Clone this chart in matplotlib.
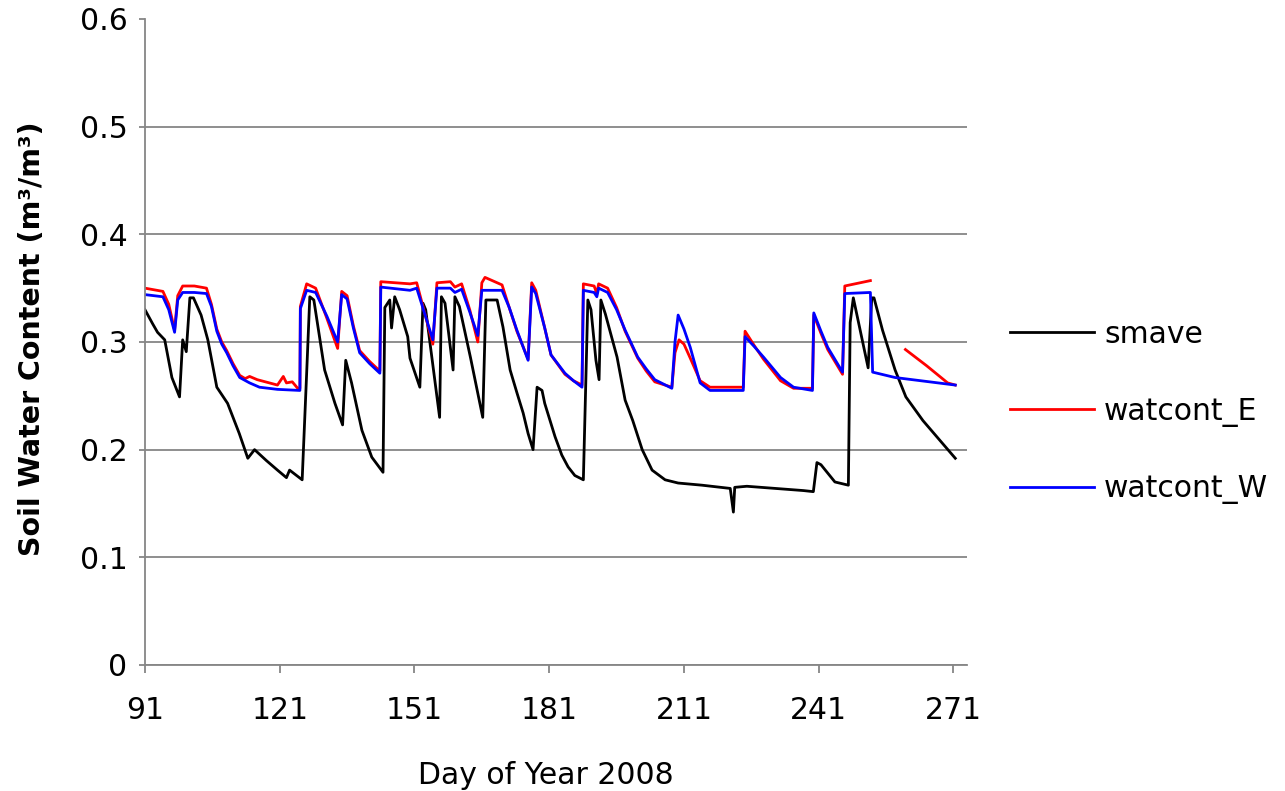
import numpy as np
import matplotlib.pyplot as plt

# smave (black)
days_smave = [91.0, 92.7, 93.8, 95.4, 97.0, 98.7, 99.4, 100.2, 101.0, 101.8, 103.5, 105.0, 107.0,
              109.4, 112.0, 113.9, 115.4, 118.0, 120.5, 122.5, 123.2, 126.0, 127.0, 127.7, 128.6,
              131.0, 133.3, 135.0, 135.7, 137.0, 139.3, 141.5, 144.0, 144.4, 145.5, 145.9,
              146.6, 147.7, 149.5, 150.0, 152.2, 152.9, 153.5, 156.6, 157.0, 157.8, 159.6,
              160.0, 161.0, 163.5, 166.2, 166.9, 169.4, 170.7, 172.3, 173.8, 175.2, 176.3,
              177.4, 178.3, 179.4, 180.0, 182.3, 183.8, 185.2, 186.7, 188.6, 189.6, 190.3,
              191.4, 192.1, 192.5, 193.5, 196.1, 197.9, 199.6, 201.7, 203.9, 206.8, 209.7,
              215.0, 221.3, 222.0, 222.3, 225.0, 237.6, 239.8, 240.6, 241.5, 244.6, 247.6,
              248.0, 248.7, 252.0, 252.8, 253.3, 255.2, 258.0, 260.4, 264.2, 267.9, 271.4]
smave = [0.330, 0.317, 0.309, 0.302, 0.267, 0.249, 0.302, 0.291, 0.341, 0.341, 0.325, 0.302, 0.258,
         0.243, 0.215, 0.192, 0.200, 0.190, 0.181, 0.174, 0.181, 0.172, 0.271, 0.342, 0.339,
         0.274, 0.243, 0.223, 0.283, 0.262, 0.218, 0.193, 0.179, 0.332, 0.339, 0.313,
         0.342, 0.330, 0.305, 0.285, 0.258, 0.336, 0.330, 0.230, 0.342, 0.336, 0.274,
         0.342, 0.333, 0.285, 0.230, 0.339, 0.339, 0.314, 0.274, 0.253, 0.234, 0.215,
         0.200, 0.258, 0.255, 0.243, 0.212, 0.195, 0.184, 0.176, 0.172, 0.339, 0.330,
         0.283, 0.265, 0.339, 0.326, 0.286, 0.246, 0.227, 0.200, 0.181, 0.172, 0.169,
         0.167, 0.164, 0.142, 0.165, 0.166, 0.162, 0.161, 0.188, 0.186, 0.170, 0.167,
         0.318, 0.341, 0.276, 0.341, 0.341, 0.311, 0.274, 0.249, 0.227, 0.209, 0.192]

# watcont_E (red)
days_e = [91.0, 95.0, 96.3, 97.6, 98.3, 99.4, 102.0, 104.7, 105.8, 107.0, 108.1, 109.2, 110.6,
          112.1, 113.3, 114.3, 116.0, 120.5, 121.8, 122.5, 123.8, 125.0, 125.5, 125.6, 127.0,
          129.0, 131.5, 133.9, 134.8, 136.0, 137.4, 138.8, 141.0, 143.3, 143.5, 150.0, 151.5,
          155.1, 156.0, 159.0, 160.0, 161.5, 163.3, 165.1, 166.0, 166.7, 170.5, 172.1, 173.8,
          176.3, 177.1, 178.0, 180.0, 181.4, 184.5, 186.4, 188.3, 188.6, 191.0, 191.6, 192.0,
          194.0, 196.0, 197.9, 200.7, 202.6, 204.5, 208.3, 209.0, 209.9, 211.0, 212.4, 214.6,
          216.8, 224.2, 224.6, 226.6, 228.7, 232.5, 235.4, 239.6, 239.9, 241.5, 243.0, 246.3,
          246.8, 252.5, 253.0, 260.3, 265.0, 269.7, 271.4]
watcont_e = [0.350, 0.347, 0.335, 0.311, 0.343, 0.352, 0.352, 0.350, 0.335, 0.312, 0.300, 0.292,
             0.280, 0.269, 0.266, 0.268, 0.265, 0.260, 0.268, 0.262, 0.263, 0.257, 0.257, 0.333,
             0.354, 0.350, 0.322, 0.294, 0.347, 0.343, 0.315, 0.292, 0.282, 0.273, 0.356, 0.354,
             0.355, 0.298, 0.355, 0.356, 0.351, 0.354, 0.330, 0.300, 0.355, 0.360, 0.353, 0.332,
             0.310, 0.284, 0.355, 0.348, 0.313, 0.288, 0.270, 0.264, 0.260, 0.354, 0.352, 0.345,
             0.354, 0.350, 0.332, 0.310, 0.285, 0.273, 0.263, 0.258, 0.290, 0.302, 0.298, 0.285,
             0.264, 0.258, 0.258, 0.310, 0.297, 0.284, 0.264, 0.257, 0.257, 0.325, 0.308, 0.293,
             0.270, 0.352, 0.357, np.nan, 0.293, 0.278, 0.262, 0.260]

# watcont_W (blue)
days_w = [91.0, 95.0, 96.3, 97.6, 98.3, 99.4, 102.0, 104.7, 105.8, 107.0, 108.1, 109.2, 110.6,
          112.1, 114.3, 116.5, 120.5, 125.5, 125.6, 127.0, 129.0, 131.5, 133.9, 134.8, 136.0,
          137.4, 138.8, 141.0, 143.3, 143.5, 150.0, 151.5, 155.1, 156.0, 159.0, 160.0, 161.5,
          163.3, 165.1, 166.0, 170.5, 172.1, 173.8, 176.3, 177.1, 178.0, 180.0, 181.4, 184.5,
          186.4, 188.3, 188.6, 191.0, 191.6, 192.0, 194.0, 196.0, 197.9, 200.7, 202.6, 204.5,
          208.3, 209.0, 209.7, 211.0, 212.4, 214.6, 216.8, 224.2, 224.6, 226.6, 228.7, 232.5,
          235.4, 239.6, 239.9, 241.5, 243.0, 246.3, 246.8, 252.5, 253.0, 258.0, 271.4]
watcont_w = [0.344, 0.342, 0.330, 0.309, 0.339, 0.346, 0.346, 0.345, 0.333, 0.310, 0.298, 0.290,
             0.278, 0.267, 0.262, 0.258, 0.256, 0.255, 0.331, 0.348, 0.346, 0.324, 0.300, 0.344,
             0.340, 0.313, 0.290, 0.280, 0.271, 0.351, 0.348, 0.350, 0.302, 0.350, 0.350, 0.346,
             0.349, 0.328, 0.306, 0.348, 0.348, 0.332, 0.311, 0.283, 0.351, 0.345, 0.313, 0.288,
             0.271, 0.264, 0.258, 0.348, 0.346, 0.342, 0.350, 0.346, 0.330, 0.311, 0.286, 0.275,
             0.265, 0.257, 0.300, 0.325, 0.312, 0.295, 0.262, 0.255, 0.255, 0.305, 0.296, 0.286,
             0.267, 0.258, 0.255, 0.327, 0.310, 0.295, 0.272, 0.345, 0.346, 0.272, 0.267, 0.260]

x_ticks = [91, 121, 151, 181, 211, 241, 271]
y_ticks = [0, 0.1, 0.2, 0.3, 0.4, 0.5, 0.6]
y_tick_labels = ['0', '0.1', '0.2', '0.3', '0.4', '0.5', '0.6']

grey = '#868686'
fs = 21.5

fig = plt.figure(figsize=(12.85, 7.91), dpi=100)
ax = fig.add_axes([0.1128, 0.1593, 0.6397, 0.8167])

ax.plot(days_smave, smave, color='black', lw=2.0, label='smave')
ax.plot(days_e, watcont_e, color='#ff0000', lw=2.0, label='watcont_E')
ax.plot(days_w, watcont_w, color='#0000ff', lw=2.0, label='watcont_W')

ax.set_xlim(91, 274)
ax.set_ylim(0, 0.6)
ax.set_xticks(x_ticks)
ax.set_yticks(y_ticks)
ax.set_yticklabels(y_tick_labels)

ax.yaxis.grid(True, color=grey, lw=1.3)
ax.get_ygridlines()[-1].set_visible(False)
ax.set_axisbelow(True)

for s in ['top', 'right']:
    ax.spines[s].set_visible(False)
for s in ['left', 'bottom']:
    ax.spines[s].set_color(grey)
    ax.spines[s].set_linewidth(1.3)

ax.tick_params(axis='both', direction='out', color=grey, width=1.3,
               labelcolor='black', labelsize=fs)
ax.tick_params(axis='x', length=6, pad=16)
ax.tick_params(axis='y', length=4.5, pad=8)

ax.set_xlabel('Day of Year 2008', fontsize=fs)
ax.xaxis.set_label_coords(0.488, -0.148)
ax.set_ylabel('Soil Water Content (m³/m³)', fontsize=20.5, fontweight='bold')
ax.yaxis.set_label_coords(-0.12, 0.505)

fig.legend(loc='center left', bbox_to_anchor=(0.786, 0.479), frameon=False,
           fontsize=fs, handlelength=2.8, handletextpad=0.35, labelspacing=1.6,
           borderpad=0, borderaxespad=0)

fig.savefig('out.png', dpi=100)
